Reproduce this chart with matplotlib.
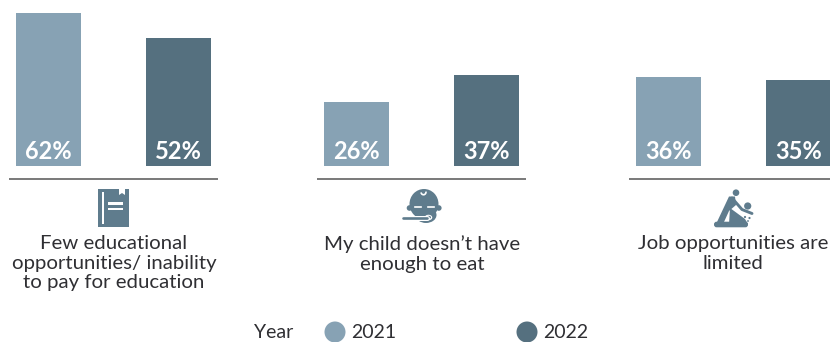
import matplotlib
matplotlib.use("Agg")
import matplotlib.pyplot as plt
from matplotlib.patches import Polygon, Circle, Ellipse, Rectangle, Arc, FancyBboxPatch

# share of respondents per reason, by survey year
labels = ["Few educational\nopportunities/ inability\nto pay for education",
          "My child doesn\u2019t have\nenough to eat",
          "Job opportunities are\nlimited"]
values_2021 = [62, 26, 36]
values_2022 = [52, 37, 35]
years = ["2021", "2022"]

COLOR_2021 = "#87a2b4"
COLOR_2022 = "#55707f"
ICON = "#5f7c8d"
TEXT = "#2f2f33"
FONT = "Lato"

W, H = 830, 342
fig = plt.figure(figsize=(W / 100, H / 100), dpi=100, facecolor="white")

# bars use percent on y, the baseline sits 166 px from the top
scale = 2.465
ax = fig.add_axes([0, 0, 1, 1])
ax.set_xlim(0, W)
ax.set_ylim(-(H - 166) / scale, 166 / scale)
ax.axis("off")

# overlay in pixel coordinates for rules, icons and text
ov = fig.add_axes([0, 0, 1, 1])
ov.set_xlim(0, W)
ov.set_ylim(H, 0)
ov.axis("off")
ov.patch.set_alpha(0)

x_2021 = [48.5, 356.5, 668.5]
x_2022 = [178.5, 486.5, 798.5]
bar_w = 65
rules = [(9, 218), (317, 526), (629, 830)]
text_x = [114, 422, 733]

b1 = ax.bar(x_2021, values_2021, bar_w, color=COLOR_2021)
b2 = ax.bar(x_2022, values_2022, bar_w, color=COLOR_2022)
for bars, vals in ((b1, values_2021), (b2, values_2022)):
    for bar, v in zip(bars, vals):
        ov.text(bar.get_x() + bar.get_width() / 2, 151.5, f"{v}%", color="white",
                fontsize=17, fontweight="bold", family=FONT, ha="center", va="center")

for (x0, x1) in rules:
    ov.plot([x0, x1], [179, 179], color="#555555", lw=1.1, solid_capstyle="butt")

for x, lab in zip(text_x, labels):
    ov.text(x, 235, lab, color=TEXT, fontsize=14.7, family=FONT, ha="center", va="top",
            linespacing=1.19)

# book icon
ov.add_patch(Polygon([(98, 189), (119, 189), (119, 195), (122, 193), (125, 195),
                      (125, 189), (129, 189), (129, 227), (98, 227)], color=ICON, lw=0))
ov.add_patch(Rectangle((101.5, 192), 2.4, 32, color="white", lw=0))
ov.add_patch(Rectangle((108, 202), 15, 2.6, color="white", lw=0))
ov.add_patch(Rectangle((108, 207.5), 15, 2.6, color="white", lw=0))

# baby icon
ov.add_patch(Ellipse((424, 204), 29, 30, color=ICON, lw=0))
ov.add_patch(Ellipse((426, 215), 21, 16, color=ICON, lw=0))
ov.add_patch(Circle((409.5, 208), 2.8, color=ICON, lw=0))
ov.add_patch(Circle((438.8, 208), 2.8, color=ICON, lw=0))
ov.add_patch(Arc((423.5, 192), 5, 5.5, theta1=-10, theta2=170, color="white", lw=1.2))
ov.plot([414.5, 421], [206.8, 206.8], color="white", lw=1.2)
ov.plot([427.5, 434], [206.8, 206.8], color="white", lw=1.2)
# spoon with a white edge, bowl resting in the mouth
ov.plot([410, 427], [218.3, 218.3], color="white", lw=3.6, solid_capstyle="round")
ov.add_patch(Ellipse((428.5, 217.5), 7.5, 5.5, color="white", lw=0))
ov.plot([403, 427], [218.3, 218.3], color=ICON, lw=1.9, solid_capstyle="round")
ov.add_patch(Ellipse((428.5, 217.3), 5, 3, color=ICON, lw=0))

# massage icon
ov.add_patch(Circle((736, 192.7), 3.3, color=ICON, lw=0))
ov.add_patch(Circle((747.7, 206), 3.6, color=ICON, lw=0))
ov.add_patch(FancyBboxPatch((714, 221.7), 34, 5.6, boxstyle="round,pad=0,rounding_size=2.6",
                            color=ICON, lw=0))
ov.add_patch(Polygon([(717, 222), (729, 196.5), (735, 196.5), (736, 205), (729, 211), (724, 222)],
                     color=ICON, lw=0))
ov.plot([732, 742, 752], [198, 209.5, 213.5], color=ICON, lw=2.1, solid_capstyle="round")
ov.add_patch(Polygon([(730, 208), (745, 219), (748, 224), (729, 224)], color=ICON, lw=0))
ov.add_patch(Circle((745, 217), 1.1, color=ICON, lw=0))
ov.add_patch(Circle((749.5, 218), 1.1, color=ICON, lw=0))
ov.add_patch(Circle((748, 221), 0.9, color=ICON, lw=0))

# year legend
ov.text(254, 333, "Year", color=TEXT, fontsize=14, family=FONT, ha="left", va="center")
for cx, col, yr in zip([335, 527], [COLOR_2021, COLOR_2022], years):
    ov.add_patch(Circle((cx, 332), 10.5, color=col, lw=0))
    ov.text(cx + 16, 332.5, yr, color=TEXT, fontsize=14, family=FONT, ha="left", va="center")

fig.savefig("out.png", dpi=100)
